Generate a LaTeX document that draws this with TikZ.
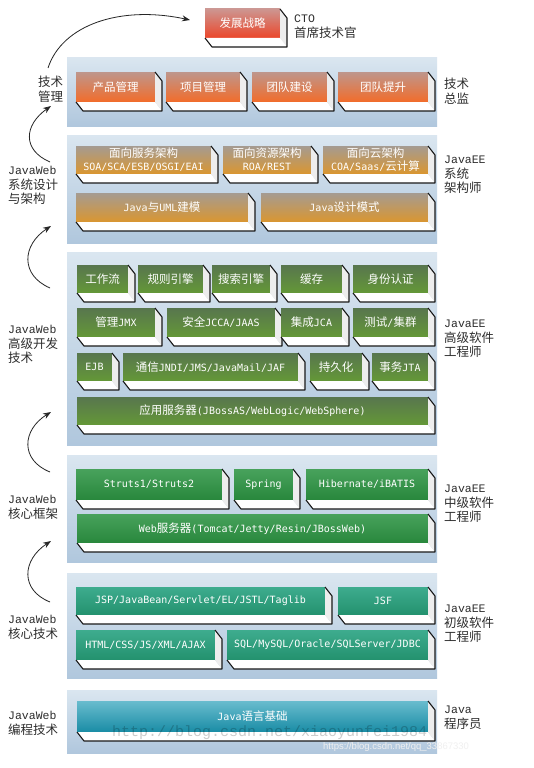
\documentclass[tikz,border=0pt]{standalone}
\usepackage{fontspec}
\newfontfamily\cjk{Noto Sans CJK SC}
\newfontfamily\lmono{Liberation Mono}
\newfontfamily\lsans{Liberation Sans}
\setmonofont{DejaVu Sans Mono}
\usetikzlibrary{calc,arrows.meta}

\definecolor{panelT}{RGB}{218,230,240}
\definecolor{panelB}{RGB}{176,199,221}
\definecolor{redT}{RGB}{205,150,145}
\definecolor{redB}{RGB}{235,70,42}
\definecolor{orgT}{RGB}{190,150,140}
\definecolor{orgB}{RGB}{242,108,42}
\definecolor{gldT}{RGB}{165,155,145}
\definecolor{gldB}{RGB}{218,150,48}
\definecolor{oliT}{RGB}{88,118,78}
\definecolor{oliB}{RGB}{100,152,55}
\definecolor{grnT}{RGB}{72,162,92}
\definecolor{grnB}{RGB}{40,135,60}
\definecolor{tealT}{RGB}{62,172,142}
\definecolor{tealB}{RGB}{35,145,110}
\definecolor{bluT}{RGB}{105,188,206}
\definecolor{bluB}{RGB}{25,140,165}
\definecolor{lbltext}{RGB}{45,45,45}

\newcommand\C[1]{{\cjk\fontsize{11.5}{13}\selectfont #1}}
\newcommand\lat[1]{{\lmono\fontsize{11.5}{14.5}\selectfont #1}}
\def\dX{7}
\def\dY{9}

\tikzset{
  tdfront/.style={inner sep=0pt, outer sep=0pt, text=white, align=center,
    font=\ttfamily\fontsize{10}{13}\selectfont},
  cred/.style={top color=redT, bottom color=redB},
  corg/.style={top color=orgT, bottom color=orgB},
  cgld/.style={top color=gldT, bottom color=gldB},
  coli/.style={top color=oliT, bottom color=oliB},
  cgrn/.style={top color=grnT, bottom color=grnB},
  cteal/.style={top color=tealT, bottom color=tealB},
  cblu/.style={top color=bluT, bottom color=bluB},
  sideface/.style={fill=white!93!black},
  bottomface/.style={fill=white},
  edge/.style={draw=black!90, line width=1.1pt, line join=round},
  panelbox/.style={inner sep=0pt, outer sep=0pt, anchor=north west,
    top color=panelT, bottom color=panelB},
  lbl/.style={inner sep=0pt, align=left, anchor=north west, text=lbltext,
    font=\cjk\fontsize{12.5}{14.5}\selectfont},
  arr/.style={-{Stealth[length=8pt,width=6pt]}, line width=0.8pt, draw=black!85},
}

% name, x1, y1, x2, y2, colour style, text
\newcommand\tdbox[7]{%
  \node[tdfront,#6,minimum width=#4pt-#2pt,minimum height=#5pt-#3pt,anchor=north west] (#1) at (#2,#3) {#7};
  \fill[bottomface] (#1.south west) -- ($(#1.south west)+(\dX,\dY)$) -- ($(#1.south east)+(\dX,\dY)$) -- (#1.south east) -- cycle;
  \fill[sideface] (#1.south east) -- ($(#1.south east)+(\dX,\dY)$) -- ($(#1.north east)+(\dX,\dY)$) -- (#1.north east) -- cycle;
  \draw[edge] (#1.south west) -- ($(#1.south west)+(\dX,\dY)$) -- ($(#1.south east)+(\dX,\dY)$) -- ($(#1.north east)+(\dX,\dY)$) -- (#1.north east);
}
\newcommand\panel[5]{%
  \node[panelbox,minimum width=#4pt-#2pt,minimum height=#5pt-#3pt] (#1) at (#2,#3) {};
}

\begin{document}
\begin{tikzpicture}[x=1pt,y=-1pt]
\useasboundingbox[fill=white] (0,0) rectangle (533,768);

% panels
\panel{p1}{67}{58}{437}{126}
\panel{p2}{67}{135}{437}{243}
\panel{p3}{67}{252}{437}{445}
\panel{p4}{67}{455}{437}{562}
\panel{p5}{67}{573}{437}{678}
\panel{p6}{67}{690}{437}{753}

% top
\tdbox{cto}{205}{9}{280}{38}{cred}{\C{发展战略}}

% panel 1
\tdbox{b11}{76}{72}{155}{102}{corg}{\C{产品管理}}
\tdbox{b12}{166}{72}{240}{102}{corg}{\C{项目管理}}
\tdbox{b13}{252}{72}{327}{102}{corg}{\C{团队建设}}
\tdbox{b14}{338}{72}{428}{102}{corg}{\C{团队提升}}

% panel 2
\tdbox{b21}{76}{146}{211}{174}{cgld}{\C{面向服务架构}\\SOA/SCA/ESB/OSGI/EAI}
\tdbox{b22}{223}{146}{311}{174}{cgld}{\C{面向资源架构}\\ROA/REST}
\tdbox{b23}{323}{146}{428}{174}{cgld}{\C{面向云架构}\\COA/Saas/\C{云计算}}
\tdbox{b24}{76}{193}{248}{222}{cgld}{Java\C{与}UML\C{建模}}
\tdbox{b25}{261}{193}{428}{222}{cgld}{Java\C{设计模式}}

% panel 3
\tdbox{b31}{77}{265}{128}{293}{coli}{\C{工作流}}
\tdbox{b32}{138}{265}{203}{293}{coli}{\C{规则引擎}}
\tdbox{b33}{212}{265}{270}{293}{coli}{\C{搜索引擎}}
\tdbox{b34}{281}{265}{342}{293}{coli}{\C{缓存}}
\tdbox{b35}{353}{265}{428}{293}{coli}{\C{身份认证}}
\tdbox{b36}{77}{308}{155}{337}{coli}{\C{管理}JMX}
\tdbox{b37}{167}{308}{275}{337}{coli}{\C{安全}JCCA/JAAS}
\tdbox{b38}{281}{308}{342}{337}{coli}{\C{集成}JCA}
\tdbox{b39}{353}{308}{428}{337}{coli}{\C{测试}/\C{集群}}
\tdbox{b3a}{77}{353}{112}{381}{coli}{EJB}
\tdbox{b3b}{123}{353}{298}{381}{coli}{\C{通信}JNDI/JMS/JavaMail/JAF}
\tdbox{b3c}{310}{353}{362}{381}{coli}{\C{持久化}}
\tdbox{b3d}{372}{353}{428}{381}{coli}{\C{事务}JTA}
\tdbox{b3e}{77}{397}{428}{425}{coli}{\C{应用服务器}(JBossAS/WebLogic/WebSphere)}

% panel 4
\tdbox{b41}{76}{469}{222}{500}{cgrn}{Struts1/Struts2}
\tdbox{b42}{234}{469}{293}{500}{cgrn}{Spring}
\tdbox{b43}{306}{469}{428}{500}{cgrn}{Hibernate/iBATIS}
\tdbox{b44}{77}{514}{428}{543}{cgrn}{Web\C{服务器}(Tomcat/Jetty/Resin/JBossWeb)}

% panel 5
\tdbox{b51}{76}{587}{325}{615}{cteal}{JSP/JavaBean/Servlet/EL/JSTL/Taglib}
\tdbox{b52}{338}{587}{428}{615}{cteal}{JSF}
\tdbox{b53}{76}{630}{215}{660}{cteal}{HTML/CSS/JS/XML/AJAX}
\tdbox{b54}{227}{630}{428}{660}{cteal}{SQL/MySQL/Oracle/SQLServer/JDBC}

% panel 6
\tdbox{b61}{77}{701}{428}{732}{cblu}{Java\C{语言基础}}

% left labels
\node[lbl] (l1) at (38,76) {技术\\管理};
\node[lbl] (l2) at (8,166) {\lat{JavaWeb}\\系统设计\\与架构};
\node[lbl] (l3) at (8,325) {\lat{JavaWeb}\\高级开发\\技术};
\node[lbl] (l4) at (8,495) {\lat{JavaWeb}\\核心框架};
\node[lbl] (l5) at (8,615) {\lat{JavaWeb}\\核心技术};
\node[lbl] (l6) at (8,711) {\lat{JavaWeb}\\编程技术};

% right labels
\node[lbl] (r0) at (294,15) {\lat{CTO}\\首席技术官};
\node[lbl] (r1) at (444,78) {技术\\总监};
\node[lbl] (r2) at (444,156) {\lat{JavaEE}\\系统\\架构师};
\node[lbl] (r3) at (444,320) {\lat{JavaEE}\\高级软件\\工程师};
\node[lbl] (r4) at (444,485) {\lat{JavaEE}\\中级软件\\工程师};
\node[lbl] (r5) at (444,605) {\lat{JavaEE}\\初级软件\\工程师};
\node[lbl] (r6) at (444,706) {\lat{Java}\\程序员};

% arrows
\coordinate (a1t) at (48,68);   \coordinate (a1h) at (190,20);
\coordinate (a2t) at (50,162);  \coordinate (a2h) at (51,106);
\coordinate (a3t) at (50,288);  \coordinate (a3h) at (51,226);
\coordinate (a4t) at (50,472);  \coordinate (a4h) at (51,412);
\coordinate (a5t) at (50,602);  \coordinate (a5h) at (51,541);
\draw[arr] (a1t) .. controls (62,25) and (120,5) .. (a1h);
\draw[arr] (a2t) .. controls (22,150) and (24,125) .. (a2h);
\draw[arr] (a3t) .. controls (20,275) and (22,245) .. (a3h);
\draw[arr] (a4t) .. controls (20,460) and (22,430) .. (a4h);
\draw[arr] (a5t) .. controls (20,590) and (22,560) .. (a5h);

% watermarks
\node[inner sep=0pt, anchor=west, text=black, opacity=0.2, font=\lmono\fontsize{15}{15}\selectfont] (wm1) at (112,733) {http://blog.csdn.net/xiaoyunfei1984};
\node[inner sep=0pt, anchor=west, text=white!88!gray, font=\lsans\fontsize{9.5}{10}\selectfont] (wm2) at (323,747) {https://blog.csdn.net/qq\_33867330};
\end{tikzpicture}
\end{document}
